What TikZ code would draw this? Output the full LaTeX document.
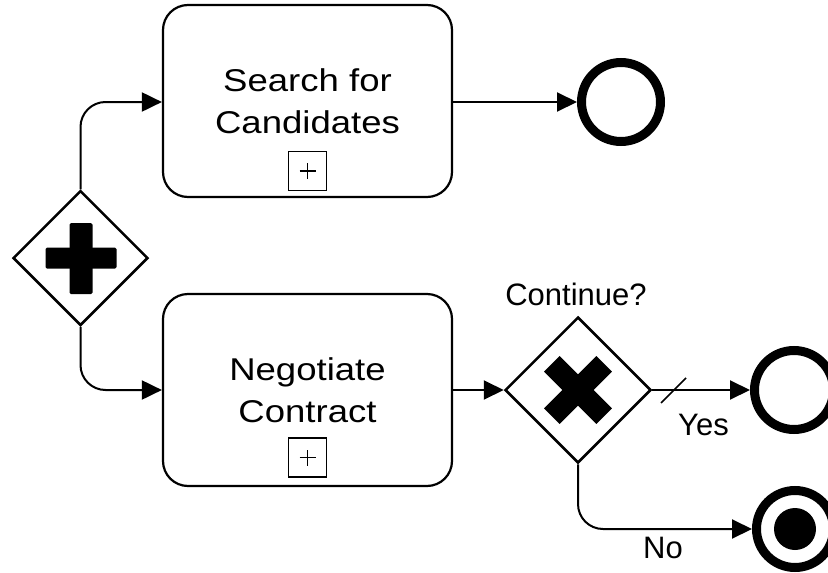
\documentclass[tikz,border=0pt]{standalone}
\usepackage{fontspec}
\setmainfont{Liberation Sans}
\newfontfamily\taskfont[FakeStretch=1.16]{Liberation Sans}
\usetikzlibrary{shapes.geometric,arrows.meta}

\begin{document}
\begin{tikzpicture}[x=1pt,y=-1pt,
  task/.style={draw, line width=2.2pt, rounded corners=25pt, minimum width=289pt,
    minimum height=192pt, inner sep=0pt, align=center,
    font=\taskfont\fontsize{31.5}{42}\selectfont},
  marker/.style={draw, line width=1.5pt, minimum width=38pt, minimum height=39pt, inner sep=0pt},
  gateway/.style={draw, diamond, aspect=1, line width=2.5pt, inner sep=0pt},
  endev/.style={draw, circle, line width=9pt, inner sep=0pt, minimum size=79pt},
  flow/.style={line width=2pt, -{Triangle[length=20pt,width=19pt]}},
  lbl/.style={font=\fontsize{31}{36}\selectfont, anchor=base, inner sep=0pt},
]
\useasboundingbox (0,0) rectangle (828,573);
\clip (0,0) rectangle (828,573);

% parallel split gateway
\node[gateway, minimum size=135pt] (fork) at (80.5,258) {};
\fill[rounded corners=1.5pt] (69.5,223) rectangle (92.5,294);
\fill[rounded corners=1.5pt] (45.5,247.5) rectangle (116.5,268.5);

% collapsed sub-processes
\node[task] (t1) at (307.5,101) {Search for\\Candidates};
\node[task] (t2) at (307.5,390) {Negotiate\\Contract};
\node[marker] (m1) at (307.5,171) {};
\node[marker] (m2) at (307.5,457.5) {};
\foreach \m in {m1,m2}{
  \draw[line width=1.3pt] ([xshift=-8pt]\m.center) -- ([xshift=8pt]\m.center);
  \draw[line width=1.3pt] ([yshift=-8pt]\m.center) -- ([yshift=8pt]\m.center);
}

% exclusive gateway
\node[gateway, minimum size=146pt] (xg) at (578,390) {};
\begin{scope}[shift={(578,390)}, rotate=45]
  \fill (-37,-11) rectangle (37,11);
  \fill (-11,-37) rectangle (11,37);
\end{scope}
\node[lbl] (lcont) at (576,305) {Continue?};

% end events
\node[endev] (end1) at (621,102) {};
\node[endev] (end2) at (794,390) {};
\node[endev, minimum size=77pt] (term) at (795,529) {};
\node[circle, fill, inner sep=0pt, minimum size=42pt] (termdot) at (term) {};

% sequence flows
\draw[flow, rounded corners=25pt] (fork.north) |- (t1.west |- end1.west);
\draw[flow, rounded corners=25pt] (fork.south) |- (t2.west);
\draw[flow] (t1.east |- end1.west) -- (end1.west);
\draw[flow] (t2.east) -- (xg.west);
\draw[flow] (xg.east) -- (end2.west);
\draw[flow, rounded corners=25pt] (xg.south) |- (term.west);

% default-flow slash and condition labels
\coordinate (sla) at (661,403);
\coordinate (slb) at (686,378);
\draw[line width=1.5pt] (sla) -- (slb);
\node[lbl] (lyes) at (703.5,435) {Yes};
\node[lbl] (lno) at (663,558) {No};
\end{tikzpicture}
\end{document}
